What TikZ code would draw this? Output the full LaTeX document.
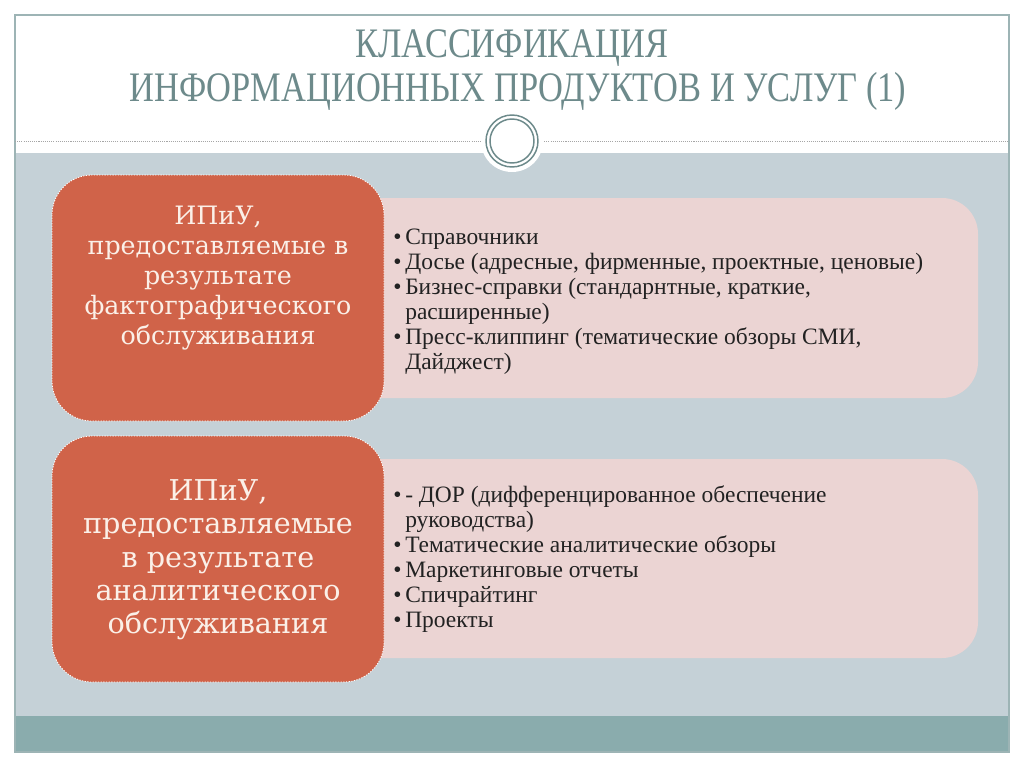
\documentclass[tikz,border=0pt]{standalone}
\usepackage{fontspec}
\setmainfont{Liberation Serif}
\newfontfamily\boxfont{DejaVu Serif}
\usetikzlibrary{positioning}
\definecolor{slidegray}{HTML}{C5D1D7}
\definecolor{bandteal}{HTML}{8AACAD}
\definecolor{framecol}{HTML}{9DB4B5}
\definecolor{titlecol}{HTML}{6D8A8B}
\definecolor{orangebox}{HTML}{D06349}
\definecolor{pinkbox}{HTML}{EBD4D3}
\definecolor{creamtext}{HTML}{FBF0E8}
\definecolor{listtext}{HTML}{222222}
\tikzset{
  catbox/.style={fill=orangebox, draw=white, line width=0.6pt, dash pattern=on 1pt off 1pt, rounded corners=40*0.75pt},
  listbox/.style={fill=pinkbox, rounded corners=36*0.75pt},
  cattext/.style={text=creamtext, align=center, font=\boxfont\fontsize{19}{22.5}\selectfont},
  cattextb/.style={text=creamtext, align=center, font=\boxfont\fontsize{21.5}{25}\selectfont},
  listtextst/.style={text=listtext, align=left, anchor=north west, inner sep=0pt, font=\fontsize{17.6}{18.75}\selectfont},
  titletext/.style={text=titlecol, font=\fontsize{31.5}{33}\selectfont}
}
\newlength{\pxu}\setlength{\pxu}{0.75pt}
\newcommand{\bul}{\makebox[12\pxu][l]{\textbullet}}
\newcommand{\ind}{\hspace*{12\pxu}}
\begin{document}
\begin{tikzpicture}[x=0.75pt,y=-0.75pt]
\useasboundingbox (0,0) rectangle (1024,767);
\fill[white] (0,0) rectangle (1024,767);
% slide areas
\fill[slidegray] (15,153) rectangle (1009,716);
\fill[bandteal] (15,716) rectangle (1009,752);
\draw[framecol, line width=0.8pt] (15,15) rectangle (1009,752);
% dotted line and ornament
\coordinate (dl1) at (15,141);
\coordinate (dl2) at (482,141);
\coordinate (dr1) at (542,141);
\coordinate (dr2) at (1009,141);
\draw[gray!70, line width=0.6pt, dash pattern=on 0.8pt off 0.8pt] (dl1) -- (dl2);
\draw[gray!70, line width=0.6pt, dash pattern=on 0.8pt off 0.8pt] (dr1) -- (dr2);
\fill[white] (512,141) circle (31*0.75pt);
\node[circle, draw=titlecol, line width=1.1pt, minimum size=52*0.75pt, inner sep=0pt] (orn) at (512,141) {};
\node[circle, draw=titlecol, line width=1.1pt, minimum size=44*0.75pt, inner sep=0pt] (orninner) at (512,141) {};
% title
\node[titletext] (t1) at (512,48) {\scalebox{0.82}[1]{КЛАССИФИКАЦИЯ}};
\node[titletext] (t2) at (518,91) {\scalebox{0.82}[1]{ИНФОРМАЦИОННЫХ ПРОДУКТОВ И УСЛУГ (1)}};
% row 1
\fill[listbox] (300,198) rectangle (978,398);
\draw[catbox] (52,175) rectangle (384,421);
\node[cattext] (c1) at (218,278) {ИПиУ,\\предоставляемые в\\результате\\фактографического\\обслуживания};
\node[listtextst] (l1) at (393,229) {\bul Справочники\\
\bul Досье (адресные, фирменные, проектные, ценовые)\\
\bul Бизнес-справки (стандарнтные, краткие,\\
\ind расширенные)\\
\bul Пресс-клиппинг (тематические обзоры СМИ,\\
\ind Дайджест)};
% row 2
\fill[listbox] (300,459) rectangle (978,658);
\draw[catbox] (52,436) rectangle (384,682);
\node[cattextb] (c2) at (218,560) {ИПиУ,\\предоставляемые\\в результате\\аналитического\\обслуживания};
\node[listtextst] (l2) at (393,485) {\bul - ДОР (дифференцированное обеспечение\\
\ind руководства)\\
\bul Тематические аналитические обзоры\\
\bul Маркетинговые отчеты\\
\bul Спичрайтинг\\
\bul Проекты};
\end{tikzpicture}
\end{document}
